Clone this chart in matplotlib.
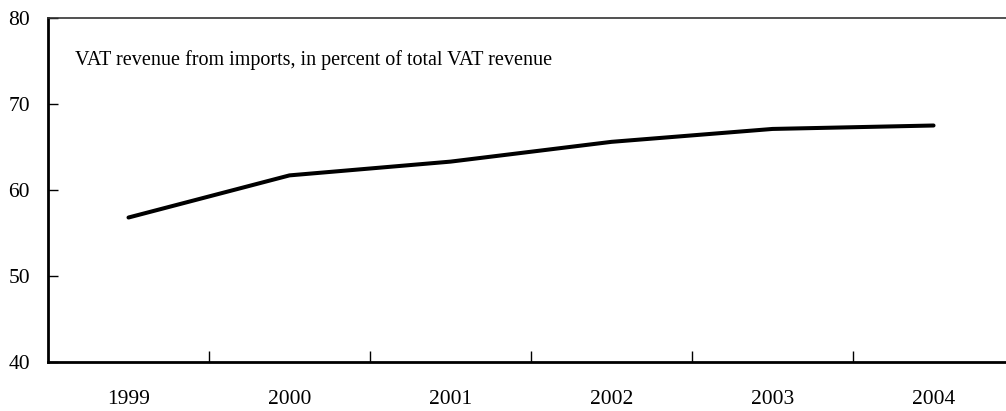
import numpy as np
import matplotlib
matplotlib.use('Agg')
from matplotlib import pyplot as plt

years = ['1999', '2000', '2001', '2002', '2003', '2004']
vat_share = [56.8, 61.7, 63.3, 65.6, 67.1, 67.5]
yticks = [40, 50, 60, 70, 80]
note = 'VAT revenue from imports, in percent of total VAT revenue'

plt.rcParams['font.family'] = ['Liberation Serif', 'DejaVu Serif']

fig = plt.figure(figsize=(10.06, 4.11), dpi=100)
ax = fig.add_axes([48 / 1006, 49 / 411, 1 - 48 / 1006, (362 - 18) / 411])

x = np.arange(len(years))
ax.plot(x, vat_share, color='black', linewidth=2.9, solid_capstyle='round')

ax.set_xlim(-0.5, 5.45)
ax.set_ylim(40, 80)

# category labels centred, tick marks between categories
ax.set_xticks(x)
ax.set_xticklabels(years, fontsize=15.5)
ax.tick_params(axis='x', which='major', length=0, pad=20)
ax.set_xticks(x[:-1] + 0.5, minor=True)
ax.tick_params(axis='x', which='minor', direction='in', length=8, width=1)

ax.set_yticks(yticks)
ax.set_yticklabels([str(v) for v in yticks], fontsize=15.5)
ax.tick_params(axis='y', direction='in', length=7, width=1, pad=13)

ax.spines['left'].set_linewidth(2)
ax.spines['bottom'].set_linewidth(2)
ax.spines['top'].set_linewidth(1.2)
ax.spines['top'].set_color('#333333')
ax.spines['right'].set_visible(False)

ax.text(0.028, 0.877, note, transform=ax.transAxes, fontsize=14.5,
        ha='left', va='center')

fig.savefig('out.png', dpi=100)
